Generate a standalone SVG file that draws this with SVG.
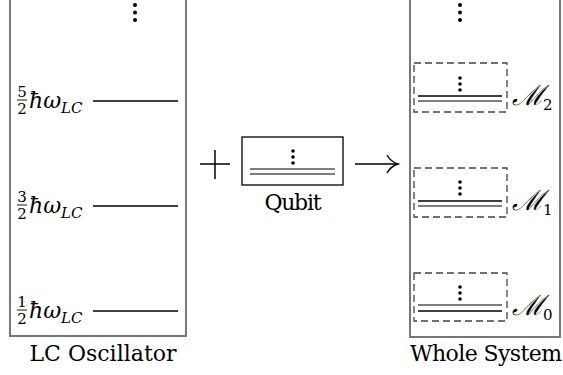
<svg xmlns="http://www.w3.org/2000/svg" width="563" height="375" viewBox="0 0 563 375">
<style>
.box{fill:none;stroke:#777;stroke-width:2}
.lvl{stroke:#000;stroke-width:1.3}
.dl{stroke:#555;stroke-width:1.3}
.dash{fill:none;stroke:#444;stroke-width:1.3;stroke-dasharray:7 4}
text{font-family:'DejaVu Serif','Liberation Serif',serif;fill:#000}
.cal{font-family:'DejaVu Serif',serif;font-style:italic;font-size:28px}
</style>
<defs>
<g id="dots"><circle cx="0" cy="0" r="2"/><circle cx="0" cy="7.5" r="2"/><circle cx="0" cy="15" r="2"/></g>
<g id="sdots"><circle cx="0" cy="0" r="1.8"/><circle cx="0" cy="6" r="1.8"/><circle cx="0" cy="12" r="1.8"/></g>
</defs>

<g id="lc-oscillator">
<rect class="box" x="10" y="-10" width="176" height="346"/>
<use href="#dots" x="135" y="5"/>
<g id="level-5">
<text x="22" y="97" font-size="15" text-anchor="middle">5</text>
<line x1="17" y1="100" x2="27" y2="100" stroke="#000" stroke-width="0.9"/>
<text x="22" y="114" font-size="15" text-anchor="middle">2</text>
<text x="29" y="108" font-size="22" font-style="italic">ħω</text>
<text x="61" y="113" font-size="15" font-style="italic">LC</text>
<line class="lvl" x1="93" y1="101" x2="178" y2="101"/>
</g>
<g id="level-3">
<text x="22" y="202" font-size="15" text-anchor="middle">3</text>
<line x1="17" y1="205" x2="27" y2="205" stroke="#000" stroke-width="0.9"/>
<text x="22" y="219" font-size="15" text-anchor="middle">2</text>
<text x="29" y="213" font-size="22" font-style="italic">ħω</text>
<text x="61" y="218" font-size="15" font-style="italic">LC</text>
<line class="lvl" x1="93" y1="206" x2="178" y2="206"/>
</g>
<g id="level-1">
<text x="22" y="307" font-size="15" text-anchor="middle">1</text>
<line x1="17" y1="310" x2="27" y2="310" stroke="#000" stroke-width="0.9"/>
<text x="22" y="324" font-size="15" text-anchor="middle">2</text>
<text x="29" y="318" font-size="22" font-style="italic">ħω</text>
<text x="61" y="323" font-size="15" font-style="italic">LC</text>
<line class="lvl" x1="93" y1="311" x2="178" y2="311"/>
</g>
<text x="103" y="361" font-size="22" text-anchor="middle" textLength="147">LC Oscillator</text>
</g>

<g id="plus">
<line x1="200" y1="164" x2="230" y2="164" stroke="#000" stroke-width="1.5"/>
<line x1="215" y1="150" x2="215" y2="179" stroke="#000" stroke-width="1.5"/>
</g>

<g id="qubit">
<rect x="242" y="137" width="101" height="48" fill="none" stroke="#000" stroke-width="1.3"/>
<use href="#sdots" x="293" y="151"/>
<line class="dl" x1="250" y1="169" x2="335" y2="169"/>
<line class="dl" x1="250" y1="174" x2="335" y2="174"/>
<text x="293" y="210" font-size="22" text-anchor="middle" textLength="57">Qubit</text>
</g>

<g id="connectors">
<line x1="355" y1="164" x2="397" y2="164" stroke="#000" stroke-width="1.5"/>
<path d="M387,155 Q391,162 398,164 Q391,166 387,173" fill="none" stroke="#000" stroke-width="1.4"/>
</g>

<g id="whole-system">
<rect class="box" x="410" y="-10" width="150" height="347"/>
<use href="#dots" x="460" y="5"/>
<g id="m2">
<rect class="dash" x="414" y="63" width="93" height="49"/>
<use href="#sdots" x="460" y="78"/>
<line class="lvl" x1="418" y1="96" x2="502" y2="96"/>
<line class="dl" x1="418" y1="101" x2="502" y2="101"/>
<text class="cal" x="512" y="105">ℳ</text>
<text x="543" y="110" font-size="15">2</text>
</g>
<g id="m1">
<rect class="dash" x="414" y="168" width="93" height="49"/>
<use href="#sdots" x="460" y="182"/>
<line class="lvl" x1="418" y1="201" x2="502" y2="201"/>
<line class="dl" x1="418" y1="206" x2="502" y2="206"/>
<text class="cal" x="512" y="210">ℳ</text>
<text x="543" y="215" font-size="15">1</text>
</g>
<g id="m0">
<rect class="dash" x="414" y="273" width="93" height="48"/>
<use href="#sdots" x="460" y="287"/>
<line class="dl" x1="418" y1="305" x2="502" y2="305"/>
<line class="lvl" x1="418" y1="311" x2="502" y2="311"/>
<text class="cal" x="512" y="315">ℳ</text>
<text x="543" y="320" font-size="15">0</text>
</g>
<text x="486" y="361" font-size="22" text-anchor="middle" textLength="152">Whole System</text>
</g>
</svg>
